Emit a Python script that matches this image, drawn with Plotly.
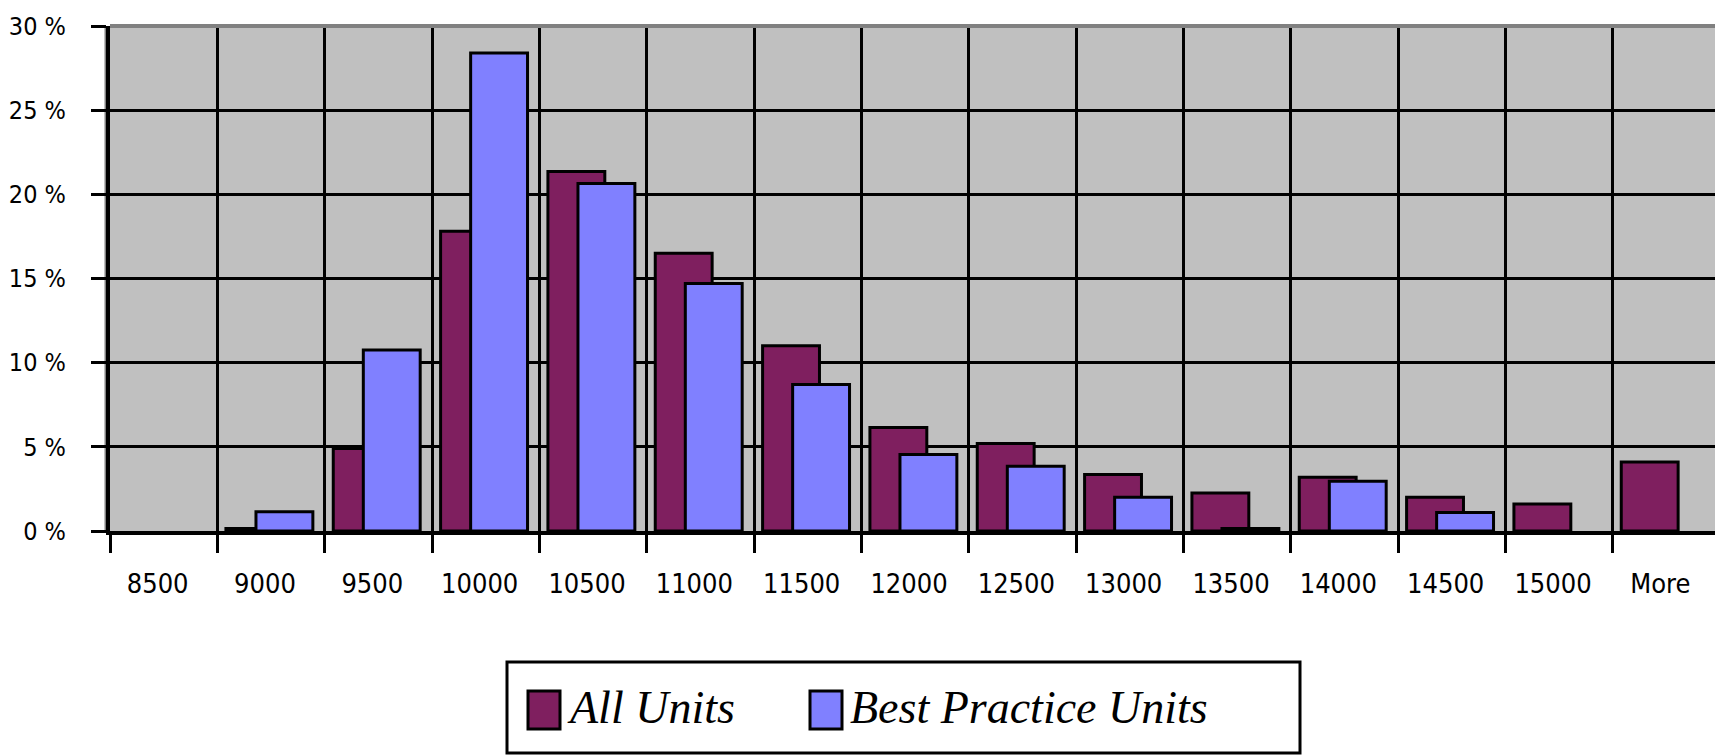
import plotly.graph_objects as go

categories = ["8500", "9000", "9500", "10000", "10500", "11000", "11500", "12000",
              "12500", "13000", "13500", "14000", "14500", "15000", "More"]
all_units = [None, 0.15, 4.9, 17.8, 21.35, 16.5, 11.0, 6.15, 5.2, 3.35, 2.25, 3.2, 2.0, 1.6, 4.1]
best_practice = [None, 1.15, 10.75, 28.4, 20.65, 14.7, 8.7, 4.55, 3.85, 2.0, 0.15, 2.95, 1.1, None, None]
series_names = ["All Units", "Best Practice Units"]
y_tickvals = [0, 5, 10, 15, 20, 25, 30]
y_ticktext = ["0 %", "5 %", "10 %", "15 %", "20 %", "25 %", "30 %"]

C_ALL = "#7F1F5F"
C_BEST = "#8080FF"

# the page adds an 8px body margin, so the figure is drawn 8px in from the window edge
OFF = 8
W, H = 1723 - OFF, 756 - OFF
X_LEFT, X_RIGHT = 110, 1720   # plot area in window pixels
L, R, T, B = X_LEFT - OFF, W - (X_RIGHT - OFF), 26 - OFF, 225
PH = H - T - B


def px(x):
    return (x - X_LEFT) / (X_RIGHT - X_LEFT)


def py(y):
    return (H - B - (y - OFF)) / PH


fig = go.Figure()
fig.add_trace(go.Bar(x=categories, y=all_units, name=series_names[0],
                     marker=dict(color=C_ALL, line=dict(color="black", width=3)),
                     width=0.53, offset=-0.42, showlegend=False))
fig.add_trace(go.Bar(x=categories, y=best_practice, name=series_names[1],
                     marker=dict(color=C_BEST, line=dict(color="black", width=3)),
                     width=0.53, offset=-0.14, showlegend=False))

FONT_FAMILY = "Liberation Sans Narrow, DejaVu Sans Condensed, Arial Narrow, DejaVu Sans"
x_tick_font = dict(family=FONT_FAMILY, size=27, color="black")
y_tick_font = dict(family=FONT_FAMILY, size=25, color="black")

fig.update_layout(
    width=W, height=H,
    margin=dict(l=L, r=R, t=T, b=B, pad=0, autoexpand=False),
    paper_bgcolor="white",
    plot_bgcolor="#C0C0C0",
    barmode="overlay",
    xaxis=dict(type="category", tickson="boundaries", showgrid=True, automargin=False,
               gridcolor="black", gridwidth=3,
               showline=True, linecolor="black", linewidth=4,
               ticks="outside", ticklen=18, tickwidth=3, tickcolor="black",
               tickfont=x_tick_font, ticklabelstandoff=26, ticklabelshift=-6,
               range=[-0.5, len(categories) - 0.5]),
    yaxis=dict(range=[0, 30], tickvals=y_tickvals, ticktext=y_ticktext, automargin=False,
               showgrid=True, gridcolor="black", gridwidth=3,
               showline=True, linecolor="black", linewidth=4,
               ticks="outside", ticklen=15, tickwidth=3, tickcolor="black",
               tickfont=y_tick_font, ticklabelstandoff=20,
               zeroline=False),
)

shapes = []
# gray frame on top, right and outer left
shapes.append(dict(type="line", xref="paper", yref="paper", x0=0, x1=1, y0=1, y1=1,
                   line=dict(color="#808080", width=4), layer="above"))
shapes.append(dict(type="line", xref="paper", yref="paper", x0=1, x1=1, y0=0, y1=1,
                   line=dict(color="#808080", width=4), layer="above"))
shapes.append(dict(type="line", xref="paper", yref="paper", x0=px(106), x1=px(106), y0=0, y1=1,
                   line=dict(color="#808080", width=3), layer="below"))

# legend box
shapes.append(dict(type="rect", xref="paper", yref="paper",
                   x0=px(507), x1=px(1300), y0=py(662), y1=py(753),
                   line=dict(color="black", width=3), fillcolor="white", layer="above"))
swatches = [(528, 560, C_ALL), (810, 842, C_BEST)]
for x0, x1, c in swatches:
    shapes.append(dict(type="rect", xref="paper", yref="paper",
                       x0=px(x0), x1=px(x1), y0=py(691), y1=py(729),
                       line=dict(color="black", width=3), fillcolor=c, layer="above"))
fig.update_layout(shapes=shapes)

legend_font = dict(family="Liberation Serif, DejaVu Serif, serif", size=46, color="black")
text_x = [565, 848]
for name, tx in zip(series_names, text_x):
    fig.add_annotation(xref="paper", yref="paper", x=px(tx), y=py(708),
                       xanchor="left", yanchor="middle", showarrow=False,
                       text="<i>" + name + "</i>", font=legend_font)

fig.write_html("out.html")
